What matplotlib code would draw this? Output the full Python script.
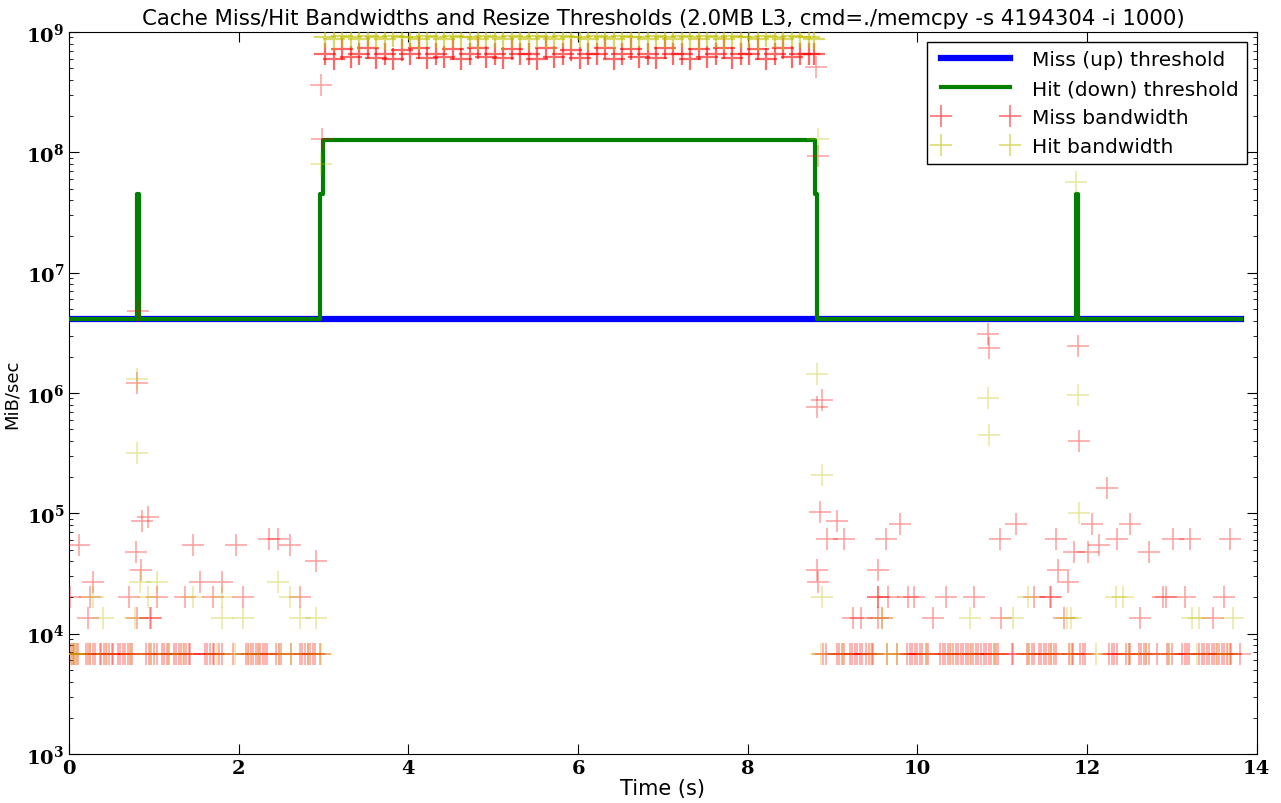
import math
import matplotlib
matplotlib.use("Agg")
import matplotlib.pyplot as plt
from matplotlib.ticker import FuncFormatter, NullFormatter

plt.rcParams['mathtext.fontset'] = 'dejavuserif'

# threshold lines (step shaped)
up_t = [0.0, 13.82]
up_v = [4.1e6, 4.1e6]
down_t = [0.0, 0.80, 0.80, 0.82, 0.82, 2.96, 2.96, 2.99, 2.99, 8.79, 8.79,
          8.82, 8.82, 11.87, 11.87, 11.89, 11.89, 13.82]
down_v = [4.1e6, 4.1e6, 4.5e7, 4.5e7, 4.1e6, 4.1e6, 4.5e7, 4.5e7, 1.26e8,
          1.26e8, 4.5e7, 4.5e7, 4.1e6, 4.1e6, 4.5e7, 4.5e7, 4.1e6, 4.1e6]

y_ticks = [1e3, 1e4, 1e5, 1e6, 1e7, 1e8, 1e9]

# dense floor of miss / hit samples (~6.8e3 MiB/s)
floor_v = 6.8e3
miss_floor_t = [0.02, 0.04, 0.06, 0.08, 0.10, 0.20, 0.22, 0.25, 0.28, 0.30,
                0.36, 0.38, 0.41, 0.44, 0.47, 0.50, 0.52, 0.57, 0.60, 0.63,
                0.66, 0.69, 0.72, 0.74, 0.91, 0.94, 0.97, 1.00, 1.03, 1.09,
                1.12, 1.15, 1.18, 1.23, 1.26, 1.29, 1.32, 1.35, 1.38, 1.41,
                1.43, 1.60, 1.63, 1.66, 1.69, 1.71, 1.77, 1.80, 1.93, 2.08,
                2.11, 2.14, 2.17, 2.20, 2.23, 2.25, 2.28, 2.31, 2.33, 2.44,
                2.47, 2.50, 2.62, 2.72, 2.75, 2.78, 2.81, 2.84, 2.87, 2.90,
                2.96,
                8.89, 8.92, 9.05, 9.08, 9.11, 9.13, 9.20, 9.23, 9.26, 9.29,
                9.32, 9.35, 9.40, 9.43, 9.46, 9.48, 9.64, 9.76, 9.88, 9.91,
                9.94, 9.97, 10.00, 10.03, 10.06, 10.10, 10.13, 10.27, 10.30,
                10.33, 10.36, 10.39, 10.42, 10.45, 10.48, 10.51, 10.54, 10.57,
                10.60, 10.63, 10.66, 10.69, 10.72, 10.75, 10.78, 10.81, 10.84,
                10.87, 10.90, 10.93, 10.95, 11.11, 11.13, 11.29, 11.32, 11.35,
                11.37, 11.43, 11.46, 11.49, 11.52, 11.55, 11.58, 11.61, 11.64,
                11.79, 11.82, 11.84, 11.92, 11.95, 11.98, 12.26, 12.29, 12.32,
                12.35, 12.46, 12.49, 12.51, 12.61, 12.64, 12.67, 12.70, 12.73,
                12.83, 12.94, 12.97, 13.00, 13.12, 13.15, 13.18, 13.20, 13.32,
                13.35, 13.38, 13.41, 13.44, 13.47, 13.50, 13.53, 13.56, 13.59,
                13.62, 13.65, 13.68, 13.70, 13.80]
hit_floor_t = [0.03, 0.06, 0.09, 0.24, 0.45, 0.73, 0.95, 1.16, 1.34, 1.74,
               1.95, 2.12, 2.24, 2.47, 2.62, 2.82, 2.97,
               8.86, 9.12, 9.45, 9.64, 9.76, 10.11, 10.40, 10.62, 10.92,
               11.31, 11.58, 11.80, 12.11, 12.49, 12.70, 12.95, 13.30, 13.52,
               13.66]

# scattered miss bandwidth samples
miss_t = [0.01, 0.25, 0.70, 1.04, 1.36, 1.70, 2.05, 2.72,
          0.28, 1.54, 1.80, 0.22, 0.80, 0.95, 0.97,
          0.11, 0.86, 0.93, 0.79, 0.85, 1.46, 1.97, 2.35, 2.46, 2.60, 2.91,
          0.80, 0.81, 2.98, 2.97, 8.83, 8.81,
          8.82, 8.87, 8.85, 9.05, 8.93, 9.14, 9.63, 9.80,
          10.83, 10.84, 10.97, 11.16, 11.89, 11.90, 12.24, 12.06, 12.51,
          11.64, 12.35, 13.01, 13.21, 13.69, 11.85, 12.01, 12.14, 12.73,
          8.82, 9.53, 11.66, 8.83, 11.78,
          9.53, 9.54, 9.65, 9.89, 9.96, 10.34, 10.67, 11.38, 11.56, 11.58,
          12.89, 12.93, 13.16, 13.61,
          9.24, 9.33, 9.53, 9.58, 10.18, 10.98, 11.73, 12.63, 13.48]
miss_v = [2.0e4, 2.0e4, 2.0e4, 2.0e4, 2.0e4, 2.0e4, 2.0e4, 2.0e4,
          2.7e4, 2.7e4, 2.7e4, 1.35e4, 1.35e4, 1.35e4, 1.35e4,
          5.4e4, 8.7e4, 9.4e4, 4.75e4, 3.4e4, 5.4e4, 5.4e4, 6.1e4, 6.1e4,
          5.4e4, 4.0e4,
          1.22e6, 4.8e6, 1.28e8, 3.6e8, 9.3e7, 5.1e8,
          7.7e5, 8.7e5, 1.02e5, 8.6e4, 6.1e4, 6.1e4, 6.1e4, 8.1e4,
          3.1e6, 2.36e6, 6.1e4, 8.1e4, 2.45e6, 4.0e5, 1.62e5, 8.1e4, 8.1e4,
          6.1e4, 6.1e4, 6.1e4, 6.1e4, 6.1e4, 4.75e4, 4.75e4, 5.4e4, 4.75e4,
          3.4e4, 3.4e4, 3.4e4, 2.7e4, 2.7e4,
          2.0e4, 2.0e4, 2.0e4, 2.0e4, 2.0e4, 2.0e4, 2.0e4, 2.0e4, 2.0e4,
          2.0e4, 2.0e4, 2.0e4, 2.0e4, 2.0e4,
          1.35e4, 1.35e4, 1.35e4, 1.35e4, 1.35e4, 1.35e4, 1.35e4, 1.35e4,
          1.35e4]

# scattered hit bandwidth samples
hit_t = [0.28, 0.93, 1.46, 1.80, 2.60,
         0.84, 1.04, 2.46,
         0.40, 0.78, 1.80, 2.05, 2.72, 2.91,
         0.80, 0.80, 2.97, 8.83,
         8.82, 8.87, 10.83, 10.84, 11.89, 11.90, 11.87, 8.87,
         9.58, 10.62, 11.13, 11.31, 11.76, 11.81, 12.34, 12.42, 13.24, 13.32,
         13.72]
hit_v = [2.0e4, 2.0e4, 2.0e4, 2.0e4, 2.0e4,
         2.7e4, 2.7e4, 2.7e4,
         1.35e4, 1.35e4, 1.35e4, 1.35e4, 1.35e4, 1.35e4,
         1.31e6, 3.2e5, 8.0e7, 1.28e8,
         1.44e6, 2.08e5, 9.1e5, 4.5e5, 9.6e5, 1.0e5, 5.7e7, 2.0e4,
         1.35e4, 1.35e4, 1.35e4, 2.0e4, 1.35e4, 1.35e4, 2.0e4, 2.0e4,
         1.35e4, 1.35e4, 1.35e4]

# saturated band between 3 and 8.8 s
band_t = [3.02, 3.12, 3.22, 3.32, 3.42, 3.52, 3.62, 3.72, 3.82, 3.92,
          4.02, 4.12, 4.22, 4.32, 4.42, 4.52, 4.62, 4.72, 4.82, 4.92,
          5.02, 5.12, 5.22, 5.32, 5.42, 5.52, 5.62, 5.72, 5.82, 5.92,
          6.02, 6.12, 6.22, 6.32, 6.42, 6.52, 6.62, 6.72, 6.82, 6.92,
          7.02, 7.12, 7.22, 7.32, 7.42, 7.52, 7.62, 7.72, 7.82, 7.92,
          8.02, 8.12, 8.22, 8.32, 8.42, 8.52, 8.62, 8.72, 8.78]
band_miss_v = [6.6e8, 6.0e8, 7.2e8, 6.2e8, 6.6e8, 7.4e8, 6.1e8, 6.6e8, 6.0e8, 7.1e8,
               6.5e8, 7.3e8, 6.1e8, 6.6e8, 6.2e8, 7.2e8, 6.0e8, 6.6e8, 7.4e8, 6.2e8,
               6.6e8, 6.1e8, 7.2e8, 6.5e8, 6.6e8, 6.0e8, 7.3e8, 6.2e8, 6.6e8, 7.1e8,
               6.1e8, 6.6e8, 6.5e8, 7.4e8, 6.0e8, 6.6e8, 7.2e8, 6.2e8, 6.6e8, 6.1e8,
               7.3e8, 6.5e8, 6.6e8, 6.0e8, 7.2e8, 6.2e8, 6.6e8, 7.4e8, 6.1e8, 6.6e8,
               6.5e8, 7.2e8, 6.0e8, 6.6e8, 7.3e8, 6.2e8, 6.6e8, 6.5e8, 6.6e8]
band_hit_v = [9.0e8, 8.7e8, 9.3e8, 9.0e8, 8.8e8, 9.2e8, 9.0e8, 8.7e8, 9.3e8, 9.0e8,
              9.0e8, 8.8e8, 9.2e8, 9.0e8, 8.7e8, 9.3e8, 9.0e8, 9.0e8, 8.8e8, 9.2e8,
              9.0e8, 8.7e8, 9.3e8, 9.0e8, 8.8e8, 9.2e8, 9.0e8, 8.7e8, 9.3e8, 9.0e8,
              9.0e8, 8.8e8, 9.2e8, 9.0e8, 8.7e8, 9.3e8, 9.0e8, 9.0e8, 8.8e8, 9.2e8,
              9.0e8, 8.7e8, 9.3e8, 9.0e8, 8.8e8, 9.2e8, 9.0e8, 8.7e8, 9.3e8, 9.0e8,
              9.0e8, 8.8e8, 9.2e8, 9.0e8, 8.7e8, 9.3e8, 9.0e8, 9.0e8, 8.8e8]

miss_col = 'r'
hit_col = (0.75, 0.75, 0.0)


def pow10_label(v, pos):
    return r'$\mathbf{10^{%d}}$' % round(math.log10(v))


fig = plt.figure(figsize=(12.81, 8.04), dpi=100)
ax = fig.add_axes([0.054, 0.061, 0.927, 0.898])

ax.plot(up_t, up_v, color='b', lw=4.5, label='Miss (up) threshold', zorder=3)
ax.plot(down_t, down_v, color='g', lw=3, label='Hit (down) threshold', zorder=4)

mk = dict(linestyle='none', marker='+', markersize=16, markeredgewidth=1.1, alpha=0.38)
ax.plot(miss_floor_t + miss_t, [floor_v] * len(miss_floor_t) + miss_v,
        color=miss_col, label='Miss bandwidth', zorder=5, **mk)
ax.plot(hit_floor_t + hit_t, [floor_v] * len(hit_floor_t) + hit_v,
        color=hit_col, label='Hit bandwidth', zorder=5, **mk)
# the top band is many overlapping samples, drawn a bit stronger
mk_band = dict(mk, alpha=0.6, markeredgewidth=1.6)
ax.plot(band_t, band_miss_v, color=miss_col, zorder=5, **mk_band)
ax.plot(band_t, band_hit_v, color=hit_col, zorder=5, **mk_band)

ax.set_yscale('log')
ax.set_xlim(0, 14)
ax.set_ylim(1e3, 1e9)
ax.set_yticks(y_ticks)
ax.yaxis.set_major_formatter(FuncFormatter(pow10_label))
ax.yaxis.set_minor_formatter(NullFormatter())
ax.tick_params(which='both', direction='in', top=True, right=True)
ax.tick_params(which='major', length=7)
ax.tick_params(which='minor', length=3)
ax.tick_params(labelsize=14)
for lab in ax.get_xticklabels():
    lab.set_fontfamily('DejaVu Serif')
    lab.set_fontweight('bold')

ax.set_title('Cache Miss/Hit Bandwidths and Resize Thresholds (2.0MB L3, cmd=./memcpy -s 4194304 -i 1000)',
             fontsize=15.3)
ax.set_xlabel('Time (s)', fontsize=15, labelpad=1)
ax.set_ylabel('MiB/sec', fontsize=13)

leg = ax.legend(loc='upper right', numpoints=2, fontsize=14.5, fancybox=False,
                framealpha=1, edgecolor='black', handlelength=4.0)
for h in leg.legend_handles[2:]:
    h.set_alpha(0.6)

fig.savefig('out.png', dpi=100)
